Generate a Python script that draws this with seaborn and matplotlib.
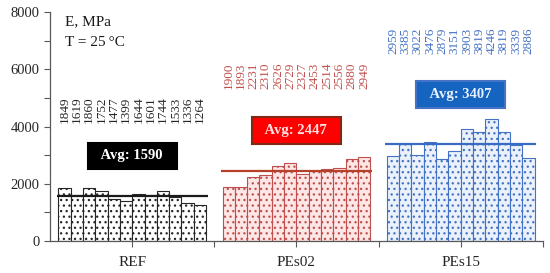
import numpy as np
import pandas as pd
import seaborn as sns
import matplotlib.pyplot as plt

# values
groups = ["REF", "PEs02", "PEs15"]
ref_vals = [1849, 1619, 1860, 1752, 1477, 1399, 1644, 1601, 1744, 1533, 1336, 1264]
pes02_vals = [1900, 1893, 2231, 2310, 2626, 2729, 2327, 2453, 2514, 2556, 2880, 2949]
pes15_vals = [2959, 3385, 3022, 3476, 2879, 3151, 3903, 3819, 4246, 3819, 3339, 2886]
averages = [1590, 2447, 3407]

# styling per group
edge_cols = ["#262626", "#C0504D", "#4472C4"]
face_cols = ["#FFFFFF", "#FDE6E6", "#EAF1FB"]
line_cols = ["#1A1A1A", "#B5402A", "#3A6BC2"]
box_face = ["#000000", "#FF0000", "#1565C0"]
box_edge = ["#000000", "#7F2A14", "#4472C4"]
box_text = ["#FFFFFF", "#FFE0E0", "#E6F0FF"]
label_base = [4140, 5300, 6530]
box_y = [2980, 3860, 5120]

rows = []
for g, vals in zip(groups, [ref_vals, pes02_vals, pes15_vals]):
    for i, v in enumerate(vals):
        rows.append({"group": g, "sample": i + 1, "E": v})
df = pd.DataFrame(rows)

sns.set_theme(style="ticks")
plt.rcParams["font.family"] = ["Liberation Serif", "DejaVu Serif"]
plt.rcParams["hatch.linewidth"] = 0.9

fig = plt.figure(figsize=(5.5, 2.73), dpi=100)
ax = fig.add_axes([0.091, 0.117, 0.896, 0.839])

sns.barplot(data=df, x="group", y="E", hue="sample", dodge=True, width=0.9,
            gap=0, errorbar=None, legend=False, palette=["white"] * 12, ax=ax)

# restyle bars by group, put value labels over them
for p in ax.patches:
    cx = p.get_x() + p.get_width() / 2
    gi = int(round(cx))
    p.set_facecolor(face_cols[gi])
    p.set_edgecolor(edge_cols[gi])
    p.set_hatch("...")
    p.set_linewidth(0.8)
    ax.text(cx, label_base[gi], f"{int(round(p.get_height()))}", rotation=90,
            ha="center", va="bottom", fontsize=9.5, color=edge_cols[gi])

# average lines + boxes
for gi, avg in enumerate(averages):
    ax.hlines(avg, gi - 0.46, gi + 0.46, color=line_cols[gi], lw=1.6, zorder=5)
    ax.text(gi, box_y[gi], f"  Avg: {avg}  ", ha="center", va="center",
            fontsize=10.5, fontweight="bold", color=box_text[gi], zorder=6,
            bbox=dict(boxstyle="square,pad=0.45", fc=box_face[gi],
                      ec=box_edge[gi], lw=1.5))

ax.text(0.03, 0.985, "E, MPa", transform=ax.transAxes, ha="left", va="top",
        fontsize=11, color="#1A1A1A")
ax.text(0.03, 0.895, "T = 25\u2009\u00b0C", transform=ax.transAxes, ha="left",
        va="top", fontsize=11, color="#1A1A1A")

ax.set_xlim(-0.5, 2.5)
ax.set_ylim(0, 8000)
ax.set_yticks([0, 2000, 4000, 6000, 8000])
ax.set_yticks([1000, 3000, 5000, 7000], minor=True)
ax.set_xticks([0.5, 1.5, 2.5], minor=True)
ax.set_xlabel("")
ax.set_ylabel("")
ax.tick_params(axis="both", which="both", labelsize=10.5, colors="#595959",
               labelcolor="#262626", direction="out")
ax.tick_params(axis="both", which="major", length=4, width=0.8)
ax.tick_params(axis="both", which="minor", length=4, width=0.8)
ax.tick_params(axis="x", pad=7, labelsize=11)
for s in ["top", "right"]:
    ax.spines[s].set_visible(False)
for s in ["left", "bottom"]:
    ax.spines[s].set_color("#595959")
    ax.spines[s].set_linewidth(0.9)

fig.savefig("out.png", dpi=100)
